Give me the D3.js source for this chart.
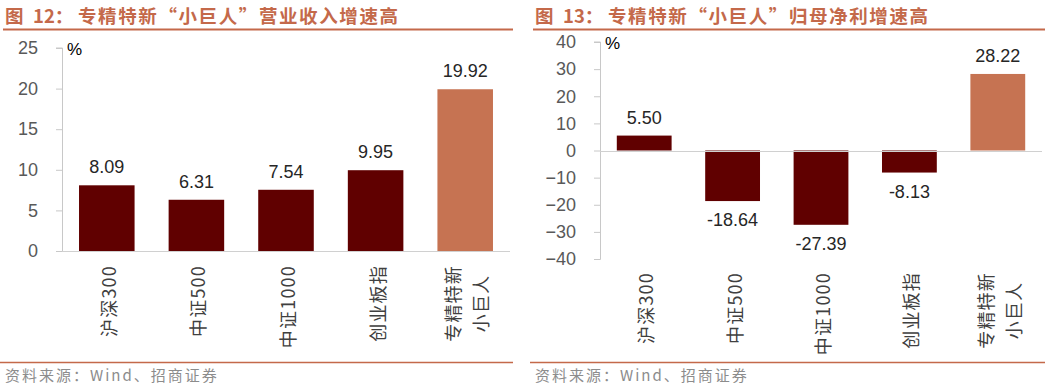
<!DOCTYPE html>
<html><head><meta charset="utf-8">
<script src="https://cdn.jsdelivr.net/npm/d3@7"></script>
<style>body{margin:0;background:#fff}svg{display:block}</style>
</head><body><svg id="c" width="1050" height="386"></svg>
<script>
const categories = ["沪深300", "中证500", "中证1000", "创业板指", "专精特新\n小巨人"];
const revenueGrowth = [8.09, 6.31, 7.54, 9.95, 19.92];
const profitGrowth = [5.50, -18.64, -27.39, -8.13, 28.22];
const revenueTicks = [0, 5, 10, 15, 20, 25];
const profitTicks = [-40, -30, -20, -10, 0, 10, 20, 30, 40];
const titleNums = ["12：", "13："];
const titleTexts = ["专精特新“小巨人”营业收入增速高", "专精特新“小巨人”归母净利增速高"];
const source = "资料来源：Wind、招商证券";

const svg = d3.select("#c");
const ORANGE = "#C4694A", DARK = "#600000", HIGH = "#C67352";
const NUM = "'Liberation Sans', Arial, 'Noto Sans CJK SC', sans-serif";
const CJK = "'Noto Sans CJK SC', 'Liberation Sans', sans-serif";

function drawPanel(o) {
  const g = svg.append("g");
  const tt = g.append("text").attr("y", 23)
    .attr("font-family", CJK).attr("font-weight", "bold").attr("font-size", 18.5).attr("fill", ORANGE);
  tt.append("tspan").attr("x", o.titleX).text("图");
  tt.append("tspan").attr("x", o.titleX + 28).text(o.num);
  tt.append("tspan").attr("x", o.titleX + 73).attr("letter-spacing", 1.6).text(o.title);
  g.append("line").attr("x1", o.lineX1).attr("x2", o.lineX2).attr("y1", 29.5).attr("y2", 29.5)
    .attr("stroke", ORANGE).attr("stroke-width", 2);
  g.append("line").attr("x1", o.lineX1 - 3).attr("x2", o.lineX2).attr("y1", 362.5).attr("y2", 362.5)
    .attr("stroke", ORANGE).attr("stroke-width", 1.5);
  g.append("text").attr("x", o.titleX).attr("y", 381).text(source).attr("letter-spacing", 2)
    .attr("font-family", CJK).attr("font-size", 15).attr("fill", "#8c8c8c");

  const y = d3.scaleLinear().domain(o.domain).range([o.yBottom, o.yTop]);
  const x = d3.scaleBand().domain(categories).range([o.x0, o.x1]).paddingInner(0.38).paddingOuter(0.19);

  const axis = g.append("g").attr("transform", `translate(${o.x0},0)`)
    .call(d3.axisLeft(y).tickValues(o.ticks).tickSize(6).tickPadding(18).tickFormat(d3.format("d")));
  axis.select(".domain").attr("stroke", "#c8c8c8").attr("d", `M-6,${y(o.domain[0])+0.5}H0.5V${y(o.domain[1])}H-6`);
  axis.selectAll(".tick line").attr("stroke", "#c8c8c8");
  axis.selectAll(".tick text").attr("font-family", NUM).attr("font-size", 18).attr("fill", "#595959");

  g.append("text").attr("x", o.x0 + 5).attr("y", o.yTop + 7).text("%")
    .attr("font-family", NUM).attr("font-size", 17).attr("fill", "#000");

  g.selectAll("rect.bar").data(o.values).join("rect").attr("class", "bar")
    .attr("x", (d, i) => x(categories[i])).attr("width", x.bandwidth())
    .attr("y", d => y(Math.max(0, d))).attr("height", d => Math.abs(y(d) - y(0)))
    .attr("fill", (d, i) => i === categories.length - 1 ? HIGH : DARK);

  g.append("line").attr("x1", o.x0).attr("x2", o.x1).attr("y1", Math.round(y(0)) + 0.5).attr("y2", Math.round(y(0)) + 0.5)
    .attr("stroke", "#d0d0d0").attr("stroke-width", 1);

  g.selectAll("text.val").data(o.values).join("text").attr("class", "val")
    .attr("x", (d, i) => x(categories[i]) + x.bandwidth() / 2)
    .attr("y", d => d >= 0 ? y(d) - 12 : y(d) + 25)
    .attr("text-anchor", "middle").text(d => d.toFixed(2))
    .attr("font-family", NUM).attr("font-size", 18).attr("fill", "#262626");

  categories.forEach((c, i) => {
    const lines = c.split("\n");
    const cx = x(c) + x.bandwidth() / 2;
    const maxLen = d3.max(lines, l => l.length);
    lines.forEach((l, j) => {
      const t = g.append("text").text(l).attr("letter-spacing", 1.2)
        .attr("font-family", CJK).attr("font-size", 18).attr("fill", "#404040");
      if (lines.length === 1) {
        t.attr("text-anchor", "end").attr("transform", `translate(${cx + 9},${o.labelTop}) rotate(-90)`);
      } else {
        const lx = cx - 5 + j * 28;
        const mid = o.labelTop + maxLen * 19.2 / 2;
        t.attr("text-anchor", "middle").attr("transform", `translate(${lx},${mid}) rotate(-90)`);
      }
    });
  });
}

drawPanel({ title: titleTexts[0], num: titleNums[0], titleX: 5, lineX1: 3, lineX2: 513, values: revenueGrowth,
  domain: [0, 25], ticks: revenueTicks, yBottom: 251, yTop: 48, x0: 62, x1: 510, labelTop: 265 });
drawPanel({ title: titleTexts[1], num: titleNums[1], titleX: 535, lineX1: 533, lineX2: 1045, values: profitGrowth,
  domain: [-40, 40], ticks: profitTicks, yBottom: 259, yTop: 42, x0: 600, x1: 1042, labelTop: 272 });
</script></body></html>
